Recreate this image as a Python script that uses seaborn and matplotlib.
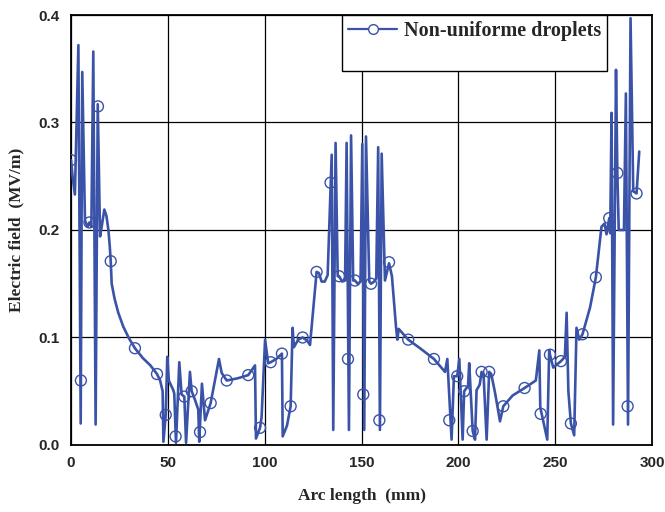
import numpy as np
import pandas as pd
import matplotlib
matplotlib.use("Agg")
import matplotlib.pyplot as plt
import seaborn as sns
from matplotlib.lines import Line2D

# ---- data ----
arc_x = [0.0, 0.8, 2.0, 3.8, 5.0, 5.8, 7.2, 8.5, 9.5, 10.5, 11.5, 12.7, 13.8, 15.0, 16.0,
         17.2, 18.3, 19.3, 20.0, 20.5, 21.0, 22.5, 24.4, 27.0, 30.0, 33.0, 37.0, 41.0, 44.4,
         46.0, 47.3, 47.7, 48.9, 49.7, 50.5, 52.8, 53.3, 54.2, 55.9, 57.1, 58.5, 59.4, 61.4,
         62.3, 64.0, 65.7, 66.2, 67.6, 69.2, 72.1, 76.4, 77.8, 80.4, 86.0, 91.5, 95.0, 95.5,
         97.6, 98.4, 100.2, 101.8, 103.1, 106.0, 108.9, 109.3, 111.5, 113.4, 114.4, 115.1,
         117.3, 119.6, 122.0, 123.4, 126.8, 128.0, 129.4, 131.0, 132.5, 134.6, 135.4, 136.6,
         137.7, 138.4, 140.0, 141.5, 142.3, 143.5, 144.6, 145.7, 146.6, 148.0, 149.5, 150.4,
         151.4, 152.3, 154.0, 154.9, 156.5, 157.6, 158.6, 159.5, 160.4, 162.1, 163.0, 164.2,
         165.7, 167.8, 168.5, 169.2, 174.1, 180.2, 187.4, 193.1, 194.3, 196.5, 197.7, 199.4,
         200.5, 202.2, 203.0, 205.0, 205.6, 207.4, 208.6, 209.4, 211.0, 212.0, 213.0, 214.6,
         215.9, 217.0, 219.0, 221.5, 223.2, 228.0, 234.2, 240.0, 241.8, 242.3, 245.9, 246.9,
         247.3, 249.0, 253.0, 255.0, 255.9, 256.8, 258.1, 259.8, 261.0, 262.4, 264.1, 268.0,
         271.0, 273.9, 275.5, 276.5, 277.9, 278.4, 279.1, 279.9, 281.4, 282.1, 282.8, 285.5,
         286.5, 287.6, 288.9, 290.3, 292.0, 293.4]
field_y = [0.265, 0.250, 0.233, 0.372, 0.020, 0.347, 0.209, 0.203, 0.207, 0.203, 0.366, 0.019, 0.317, 0.194, 0.205,
           0.219, 0.213, 0.200, 0.185, 0.171, 0.150, 0.136, 0.123, 0.110, 0.099, 0.090, 0.081, 0.074, 0.066,
           0.060, 0.050, 0.003, 0.028, 0.082, 0.060, 0.051, 0.048, 0.002, 0.077, 0.047, 0.045, 0.002, 0.068,
           0.050, 0.042, 0.033, 0.003, 0.057, 0.023, 0.039, 0.080, 0.067, 0.060, 0.062, 0.065, 0.074, 0.006,
           0.016, 0.026, 0.098, 0.076, 0.077, 0.080, 0.085, 0.008, 0.018, 0.036, 0.109, 0.091,
           0.098, 0.100, 0.097, 0.093, 0.161, 0.160, 0.152, 0.152, 0.158, 0.270, 0.014, 0.281,
           0.157, 0.157, 0.152, 0.153, 0.281, 0.014, 0.288, 0.153, 0.153, 0.150, 0.152, 0.280,
           0.014, 0.287, 0.152, 0.150, 0.152, 0.155, 0.277, 0.014, 0.271, 0.153, 0.160, 0.169,
           0.157, 0.110, 0.098, 0.108, 0.098, 0.090, 0.080, 0.068, 0.080, 0.005, 0.064, 0.064,
           0.080, 0.005, 0.050, 0.055, 0.076, 0.013, 0.005, 0.051, 0.056, 0.068, 0.066, 0.005,
           0.068, 0.066, 0.048, 0.022, 0.036, 0.046, 0.053, 0.060, 0.088, 0.035, 0.005, 0.088,
           0.084, 0.072, 0.078, 0.082, 0.123, 0.050, 0.020, 0.009, 0.109, 0.098, 0.103, 0.128,
           0.156, 0.203, 0.206, 0.196, 0.211, 0.197, 0.309, 0.019, 0.349, 0.253, 0.200, 0.200,
           0.327, 0.019, 0.397, 0.236, 0.234, 0.273]

marker_x = [0.0, 5.1, 9.5, 13.9, 20.5, 33.0, 44.4, 48.9, 54.0, 58.5, 62.3, 66.6, 72.1, 80.4,
            91.5, 97.6, 103.1, 108.9, 113.4, 119.6, 126.8, 134.0, 138.4, 143.0, 146.6, 150.9,
            154.9, 159.2, 164.2, 174.1, 187.4, 195.3, 199.4, 203.0, 207.4, 212.0, 215.9, 223.2,
            234.2, 242.5, 247.3, 253.0, 258.1, 264.1, 271.0, 277.9, 282.1, 287.4, 292.0]
marker_y = [0.265, 0.060, 0.207, 0.315, 0.171, 0.090, 0.066, 0.028, 0.008, 0.045, 0.050, 0.012, 0.039, 0.060,
            0.065, 0.016, 0.077, 0.085, 0.036, 0.100, 0.161, 0.244, 0.157, 0.080, 0.153, 0.047,
            0.150, 0.023, 0.170, 0.098, 0.080, 0.023, 0.064, 0.050, 0.013, 0.068, 0.068, 0.036,
            0.053, 0.029, 0.084, 0.078, 0.020, 0.103, 0.156, 0.211, 0.253, 0.036, 0.234]

x_ticks = [0, 50, 100, 150, 200, 250, 300]
y_ticks = [0.0, 0.1, 0.2, 0.3, 0.4]
series_label = "Non-uniforme droplets"
x_label = "Arc length  (mm)"
y_label = "Electric field  (MV/m)"

# ---- style ----
sns.set_style("white")
plt.rcParams['font.family'] = ['Liberation Sans', 'DejaVu Sans']
color = "#3a53a8"

fig = plt.figure(figsize=(6.65, 5.12), dpi=100)
ax = fig.add_axes([0.1068, 0.1309, 0.8737, 0.8398])

line_df = pd.DataFrame({"x": arc_x, "y": field_y})
mk_df = pd.DataFrame({"x": marker_x, "y": marker_y})

sns.lineplot(data=line_df, x="x", y="y", sort=False, estimator=None, color=color,
             linewidth=1.9, ax=ax, zorder=3)
sns.scatterplot(data=mk_df, x="x", y="y", marker="o", s=62, facecolor="none",
                edgecolor=color, linewidth=1.0, ax=ax, zorder=4)

ax.set_xlim(0, 300)
ax.set_ylim(0, 0.4)
ax.set_xticks(x_ticks)
ax.set_yticks(y_ticks)
ax.set_xticklabels([str(t) for t in x_ticks], fontsize=11, fontweight="bold")
ax.set_yticklabels([f"{t:.1f}" for t in y_ticks], fontsize=11, fontweight="bold")
ax.tick_params(axis="both", direction="out", length=5, width=1.2, color="black", pad=3)
ax.grid(True, color="black", linewidth=0.9)
ax.set_axisbelow(True)
for s in ax.spines.values():
    s.set_color("black")
    s.set_linewidth(1.3)

ax.set_xlabel(x_label, fontsize=12.5, fontweight="bold", family="Liberation Serif", labelpad=13)
ax.set_ylabel(y_label, fontsize=12.5, fontweight="bold", family="Liberation Serif", labelpad=10)

handles = [Line2D([0], [0], color=color, lw=1.6, marker="o", markersize=7,
                  markerfacecolor="white", markeredgecolor=color, markeredgewidth=1.0),
           Line2D([0], [0], color="none")]
leg = ax.legend(handles, [series_label, " "], loc="upper right",
                bbox_to_anchor=(0.9226, 1.0), borderaxespad=0, frameon=True,
                fancybox=False, framealpha=1, edgecolor="black", handlelength=2.4,
                handletextpad=0.35, labelspacing=0.2, borderpad=0.3,
                prop={"family": "Liberation Serif", "weight": "bold", "size": 14.5})
leg.get_frame().set_linewidth(1.0)

fig.savefig("out.png", dpi=100)
